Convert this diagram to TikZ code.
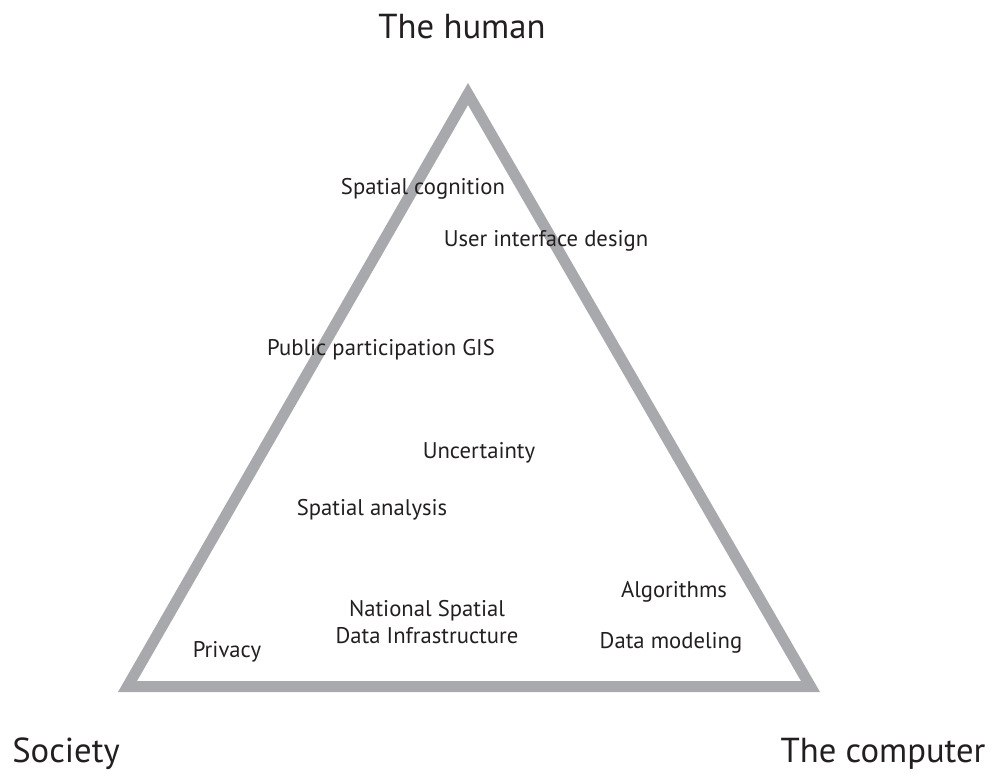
\documentclass[tikz,border=0pt]{standalone}
\usepackage{fontspec}
\setmainfont{PT Sans}
\usepackage{tikz}
\definecolor{edgegray}{HTML}{A7A9AC}
\definecolor{inkgray}{HTML}{231F20}
\tikzset{
  topic/.style={text=inkgray, inner sep=0pt, align=center, font=\fontsize{17}{20}\selectfont},
  corner/.style={text=inkgray, inner sep=0pt, font=\fontsize{26}{30}\selectfont}
}

\begin{document}
\begin{tikzpicture}[x=0.75pt, y=-0.75pt]
		%%%%% START %%%%%
		\useasboundingbox (0, 0) rectangle (994, 776);
		
		\coordinate (human) at (468, 94);
		\coordinate (society) at (127.5, 686.5);
		\coordinate (computer) at (810.5, 686.5);
		\draw[line width=8.25pt, color=edgegray, line join=miter] (human) -- (computer) -- (society) -- cycle;
		
		\node[corner] (thehuman) at (462, 27) {The human};
		\node[corner] (thesociety) at (66, 754) {Society};
		\node[corner] (thecomputer) at (883, 754) {The computer};
		
		\node[topic] (cognition) at (423, 189) {Spatial cognition};
		\node[topic] (interface) at (546, 241) {User interface design};
		\node[topic] (ppgis) at (381, 350) {Public participation GIS};
		\node[topic] (uncertainty) at (479, 453) {Uncertainty};
		\node[topic] (analysis) at (372, 510) {Spatial analysis};
		\node[topic] (nsdi) at (427, 622) {National Spatial\\Data Infrastructure};
		\node[topic] (privacy) at (227, 652) {Privacy};
		\node[topic] (algorithms) at (674, 592) {Algorithms};
		\node[topic] (modeling) at (671, 643) {Data modeling};
		
		%%%%% END %%%%%
	\end{tikzpicture}
\end{document}
